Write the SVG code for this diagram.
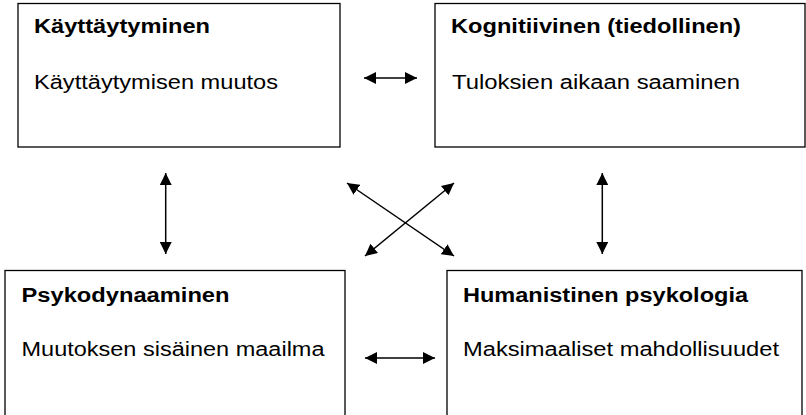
<svg xmlns="http://www.w3.org/2000/svg" width="806" height="415" viewBox="0 0 806 415">
  <style>
    .box { fill: #ffffff; stroke: #000000; stroke-width: 1.3; }
    .title { font-family: "Liberation Sans", Arial, sans-serif; font-size: 20px; font-weight: bold; fill: #000000; }
    .body { font-family: "Liberation Sans", Arial, sans-serif; font-size: 20px; fill: #000000; }
    .link { stroke: #000000; stroke-width: 1.5; fill: none; marker-start: url(#head); marker-end: url(#head); }
  </style>
  <defs>
    <marker id="head" markerUnits="userSpaceOnUse" markerWidth="13" markerHeight="12" refX="12" refY="6" orient="auto-start-reverse">
      <path d="M0,0 L12,6 L0,12 Z" fill="#000000"/>
    </marker>
  </defs>
  <rect width="806" height="415" fill="#ffffff"/>

  <g id="kayttaytyminen">
    <rect class="box" x="18" y="3.5" width="322" height="143.5"/>
    <text class="title" x="34" y="33" textLength="176" lengthAdjust="spacingAndGlyphs">Käyttäytyminen</text>
    <text class="body" x="34" y="89" textLength="244" lengthAdjust="spacingAndGlyphs">Käyttäytymisen muutos</text>
  </g>

  <g id="kognitiivinen">
    <rect class="box" x="435" y="3.5" width="370" height="143.5"/>
    <text class="title" x="451" y="33" textLength="290" lengthAdjust="spacingAndGlyphs">Kognitiivinen (tiedollinen)</text>
    <text class="body" x="452" y="89" textLength="288" lengthAdjust="spacingAndGlyphs">Tuloksien aikaan saaminen</text>
  </g>

  <g id="psykodynaaminen">
    <rect class="box" x="5" y="270.5" width="340" height="160"/>
    <text class="title" x="21.5" y="302" textLength="208" lengthAdjust="spacingAndGlyphs">Psykodynaaminen</text>
    <text class="body" x="21.5" y="356" textLength="303" lengthAdjust="spacingAndGlyphs">Muutoksen sisäinen maailma</text>
  </g>

  <g id="humanistinen">
    <rect class="box" x="447" y="270.5" width="355" height="160"/>
    <text class="title" x="463" y="302" textLength="285" lengthAdjust="spacingAndGlyphs">Humanistinen psykologia</text>
    <text class="body" x="463" y="356" textLength="316" lengthAdjust="spacingAndGlyphs">Maksimaaliset mahdollisuudet</text>
  </g>

  <g id="connectors">
    <line class="link" x1="364" y1="78" x2="417" y2="78"/>
    <line class="link" x1="365" y1="358" x2="435" y2="358"/>
    <line class="link" x1="165.7" y1="173" x2="165.7" y2="254"/>
    <line class="link" x1="602.3" y1="173" x2="602.3" y2="254"/>
    <line class="link" x1="347" y1="183" x2="454" y2="256"/>
    <line class="link" x1="454" y1="183" x2="365" y2="256"/>
  </g>
</svg>
